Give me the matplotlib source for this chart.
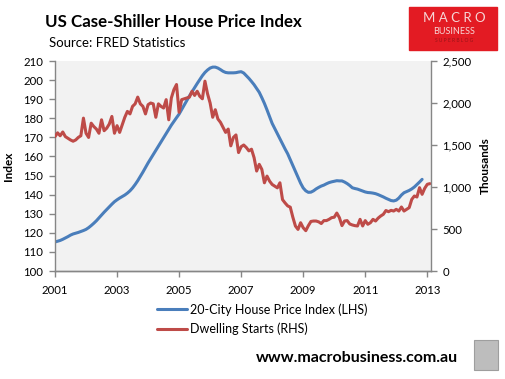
import numpy as np
import matplotlib
matplotlib.use("Agg")
import matplotlib.pyplot as plt
from matplotlib.patches import Rectangle
from matplotlib.ticker import FuncFormatter

# monthly data, Jan 2001 onwards
price_index = [
    115.2, 115.6, 116.0, 116.6, 117.3, 118.0, 118.8, 119.4, 119.8, 120.2, 120.7, 121.2,
    121.8, 122.7, 123.8, 125.0, 126.3, 127.8, 129.3, 130.8, 132.2, 133.6, 135.0, 136.3,
    137.3, 138.2, 139.0, 139.8, 140.8, 142.0, 143.5, 145.3, 147.3, 149.5, 151.8, 154.2,
    156.6, 158.8, 161.0, 163.2, 165.4, 167.6, 169.8, 172.0, 174.2, 176.4, 178.4, 180.3,
    182.2, 184.6, 187.0, 189.4, 191.7, 193.9, 196.0, 198.2, 200.3, 202.3, 204.0, 205.3,
    206.3, 206.8, 206.8, 206.3, 205.5, 204.6, 204.0, 203.8, 203.8, 203.8, 203.9, 204.2,
    204.4, 203.7, 202.3, 200.9, 199.3, 197.6, 195.6, 193.6, 190.8, 187.8, 184.4, 180.8,
    177.3, 174.6, 172.0, 169.3, 166.6, 163.9, 161.4, 158.3, 155.2, 152.0, 149.0, 146.0,
    143.5, 142.0, 141.2, 141.3, 142.0, 143.0, 143.8, 144.5, 145.0, 145.7, 146.3, 146.7,
    147.0, 147.3, 147.2, 147.2, 146.6, 145.8, 144.8, 143.6, 143.2, 142.9, 142.4, 141.9,
    141.4, 141.1, 141.0, 140.8, 140.5, 140.0, 139.4, 138.8, 138.1, 137.5, 136.9, 136.7,
    137.1, 138.2, 139.8, 141.0, 141.6, 142.2, 143.0, 144.0, 145.3, 146.6, 148.0,
]

dwelling_starts = [
    1600, 1645, 1610, 1655, 1600, 1580, 1560, 1545, 1560, 1590, 1610, 1820,
    1640, 1590, 1760, 1720, 1690, 1640, 1800, 1670, 1700, 1750, 1840, 1640,
    1730, 1650, 1740, 1830, 1900, 1870, 1960, 1990, 2070, 1990, 1960, 1870,
    1980, 2000, 1990, 1830, 1990, 1960, 1940, 2040, 1800, 2060, 2160, 2220,
    1890, 2040, 2050, 2060, 2070, 2140, 2090, 2140, 2080, 2050, 2260, 2110,
    2000, 1830, 1920, 1810, 1770, 1710, 1650, 1690, 1490, 1590, 1620, 1410,
    1480, 1500, 1470, 1430, 1450, 1350, 1190, 1270, 1210, 1050, 1130, 1070,
    1030, 1010, 990, 1050, 850, 810, 775, 760, 640, 535, 495, 575,
    515, 480, 540, 590, 595, 595, 585, 565, 600, 600, 615, 635,
    640, 690, 635, 540, 595, 600, 560, 548, 540, 536, 615, 536,
    600, 556, 575, 615, 595, 630, 655, 675, 720, 706, 722, 714,
    734, 714, 762, 714, 734, 754, 853, 893, 881, 992, 913, 984,
    1032, 1040,
]

year_ticks = [2001, 2003, 2005, 2007, 2009, 2011, 2013]
lhs_ticks = list(range(100, 211, 10))
rhs_ticks = list(range(0, 2501, 500))

labels = ["20-City House Price Index (LHS)", "Dwelling Starts (RHS)"]
blue = "#4A7EBB"
red = "#BE4B48"
grey = "#868686"

x_price = 2001 + np.arange(len(price_index)) / 12
x_starts = 2001 + np.arange(len(dwelling_starts)) / 12

plt.rcParams["font.family"] = ["Lato", "DejaVu Sans"]

fig = plt.figure(figsize=(5.05, 3.79), dpi=100)
ax = fig.add_axes([55 / 505, 1 - 271 / 379, (430.7 - 55) / 505, 210 / 379])
ax.set_facecolor("#F2F2F2")
ax2 = ax.twinx()

l1, = ax.plot(x_price, price_index, color=blue, lw=2.2, solid_capstyle="round")
l2, = ax2.plot(x_starts, dwelling_starts, color=red, lw=2.2, solid_capstyle="round")

ax.set_xlim(2001, 2013.11)
ax.set_ylim(100, 210)
ax2.set_ylim(0, 2500)
ax.set_xticks(year_ticks)
ax.set_yticks(lhs_ticks)
ax2.set_yticks(rhs_ticks)
ax2.yaxis.set_major_formatter(FuncFormatter(lambda v, p: f"{int(v):,}"))

for a in (ax, ax2):
    for s in a.spines.values():
        s.set_color(grey)
        s.set_linewidth(1)
    a.spines["top"].set_visible(False)
    a.tick_params(colors=grey, labelcolor="black", labelsize=8.2, length=4, width=1)
ax.spines["right"].set_visible(False)
ax2.spines["left"].set_visible(False)
ax.tick_params(axis="y", pad=4.5)
ax.tick_params(axis="x", pad=6)
ax2.tick_params(axis="y", pad=4.5)

ax.set_ylabel("Index", fontsize=8.5, fontweight="bold", labelpad=7)
ax2.set_ylabel("Thousands", fontsize=8.5, fontweight="bold", labelpad=6)

fig.legend([l1, l2], labels, loc="upper left", bbox_to_anchor=(152 / 505, 1 - 298 / 379),
           frameon=False, fontsize=9, handlelength=2.4, handletextpad=0.25,
           labelspacing=0.55, borderaxespad=0)

fig.text(45 / 505, 1 - 22 / 379, "US Case-Shiller House Price Index", fontsize=12.2,
         fontweight="bold", va="center", ha="left")
fig.text(49 / 505, 1 - 43 / 379, "Source: FRED Statistics", fontsize=9.5,
         va="center", ha="left")

# logo box
fig.patches.append(Rectangle((409 / 505, 1 - 50 / 379), 88 / 505, 43 / 379,
                             transform=fig.transFigure, color="#E31B23", zorder=0))
fig.text(454 / 505, 1 - 18 / 379, "M A C R O", color="#F6D6D6", fontsize=9.5,
         ha="center", va="center")
fig.text(454 / 505, 1 - 31 / 379, "BUSINESS", color="#F6D6D6", fontsize=6.5,
         ha="center", va="center")
fig.text(454 / 505, 1 - 41 / 379, "S U P E R B L O G", color="#9A1418", fontsize=3.5,
         ha="center", va="center")

fig.text(458 / 505, 1 - 358 / 379, "www.macrobusiness.com.au", fontsize=11.5,
         fontweight="bold", ha="right", va="center")
fig.patches.append(Rectangle((474 / 505, 1 - 370 / 379), 24 / 505, 30 / 379,
                             transform=fig.transFigure, facecolor="#BDBDBD",
                             edgecolor="#9E9E9E", lw=0.8))

fig.savefig("out.png", dpi=100)
